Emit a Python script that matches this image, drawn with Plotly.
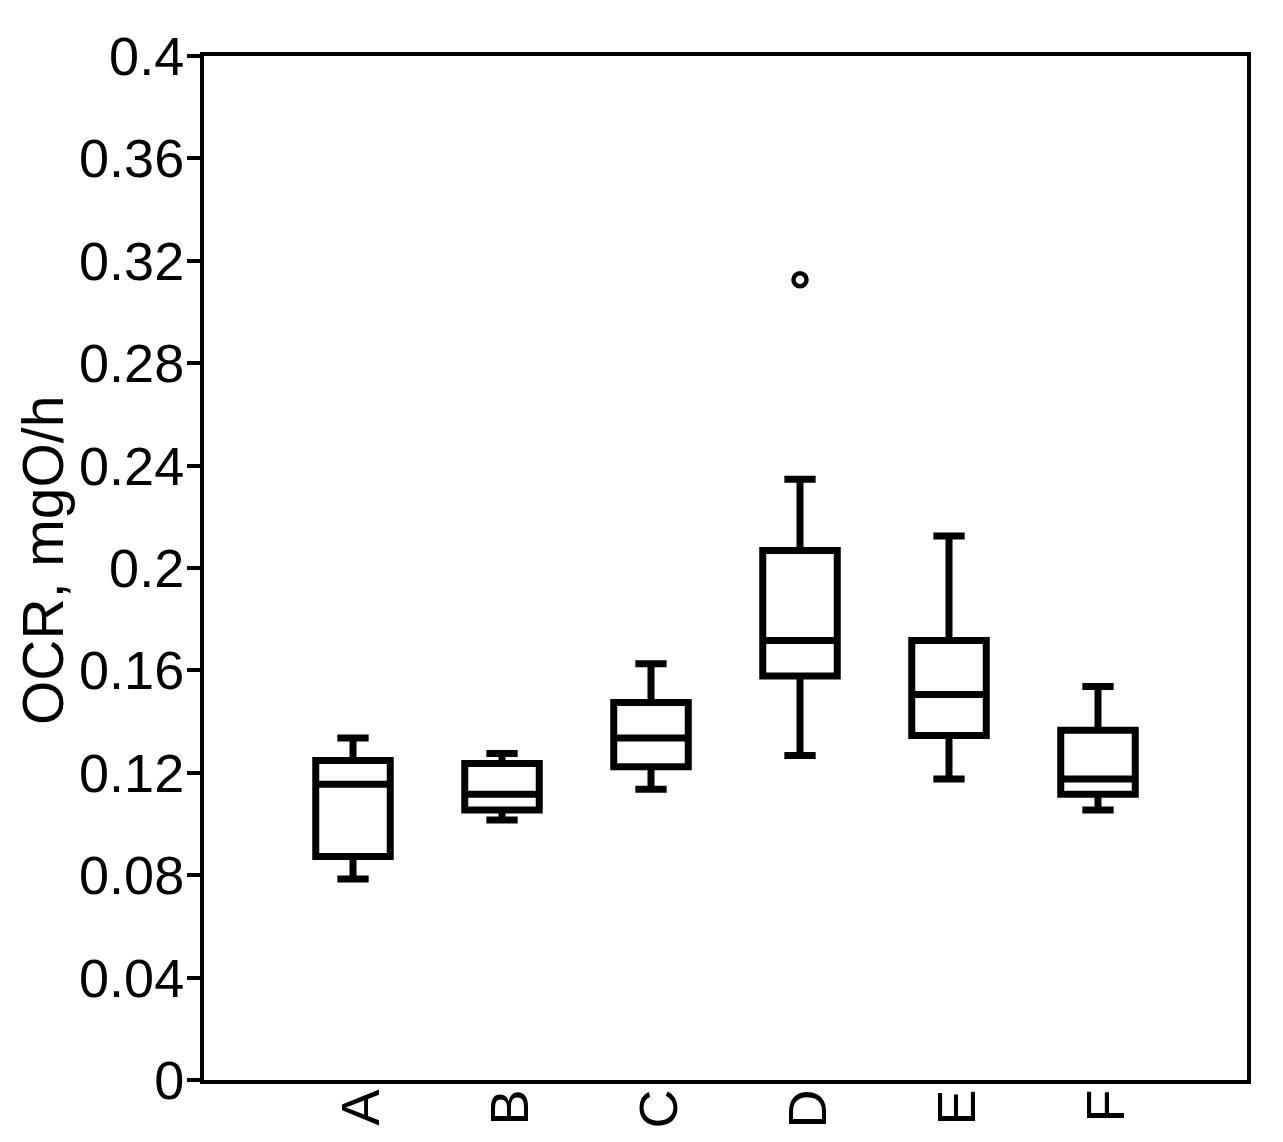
import plotly.graph_objects as go

categories = ["A", "B", "C", "D", "E", "F"]
lower_whisker = [0.0785, 0.1016, 0.1136, 0.1268, 0.1176, 0.1055]
q1_values = [0.0873, 0.1055, 0.1224, 0.1578, 0.1346, 0.1116]
median_values = [0.1155, 0.1116, 0.1336, 0.1717, 0.1506, 0.1176]
q3_values = [0.1248, 0.1236, 0.1475, 0.2068, 0.1717, 0.1366]
upper_whisker = [0.1336, 0.1275, 0.1626, 0.2347, 0.2125, 0.1537]
outlier_cats = ["D"]
outlier_values = [0.3126]
y_ticks = [0, 0.04, 0.08, 0.12, 0.16, 0.2, 0.24, 0.28, 0.32, 0.36, 0.4]
y_tick_labels = ["0", "0.04", "0.08", "0.12", "0.16", "0.2", "0.24", "0.28", "0.32", "0.36", "0.4"]
y_title = "OCR, mgO/h"

FONT = "Liberation Sans, Arial, sans-serif"

fig = go.Figure()
fig.add_trace(go.Box(
    x=categories,
    q1=q1_values,
    median=median_values,
    q3=q3_values,
    lowerfence=lower_whisker,
    upperfence=upper_whisker,
    width=0.5,
    fillcolor="white",
    line=dict(color="black", width=7),
    whiskerwidth=0.42,
    boxpoints=False,
    showlegend=False,
    hoverinfo="skip",
))
fig.add_trace(go.Scatter(
    x=outlier_cats,
    y=outlier_values,
    mode="markers",
    marker=dict(symbol="circle-open", size=13, color="black", line=dict(width=4.5, color="black")),
    showlegend=False,
))

fig.add_annotation(
    text=y_title,
    xref="paper", yref="paper",
    x=0, y=0.5,
    xanchor="center", yanchor="middle",
    xshift=-161, yshift=7,
    textangle=-90,
    showarrow=False,
    font=dict(family=FONT, size=57, color="black"),
)

fig.update_layout(
    width=1283,
    height=1142,
    paper_bgcolor="white",
    plot_bgcolor="white",
    margin=dict(l=196, r=44, t=48, b=70, autoexpand=False),
    font=dict(family=FONT, size=54, color="black"),
    xaxis=dict(
        type="category",
        categoryorder="array",
        categoryarray=categories,
        range=[-1, 6],
        showline=True,
        linecolor="black",
        linewidth=4,
        mirror=True,
        showgrid=False,
        zeroline=False,
        ticks="",
        ticklen=0,
        tickangle=-90,
        ticklabelstandoff=-16,
        ticklabelshift=8,
        automargin=False,
        tickfont=dict(family=FONT, size=54, color="black"),
    ),
    yaxis=dict(
        range=[0, 0.4],
        tickvals=y_ticks,
        ticktext=y_tick_labels,
        showline=True,
        linecolor="black",
        linewidth=4,
        mirror=True,
        showgrid=False,
        zeroline=False,
        ticks="outside",
        ticklen=13,
        tickwidth=4,
        tickcolor="black",
        ticklabelstandoff=-8,
        automargin=False,
        tickfont=dict(family=FONT, size=54, color="black"),
    ),
)

fig.write_html("out.html")
